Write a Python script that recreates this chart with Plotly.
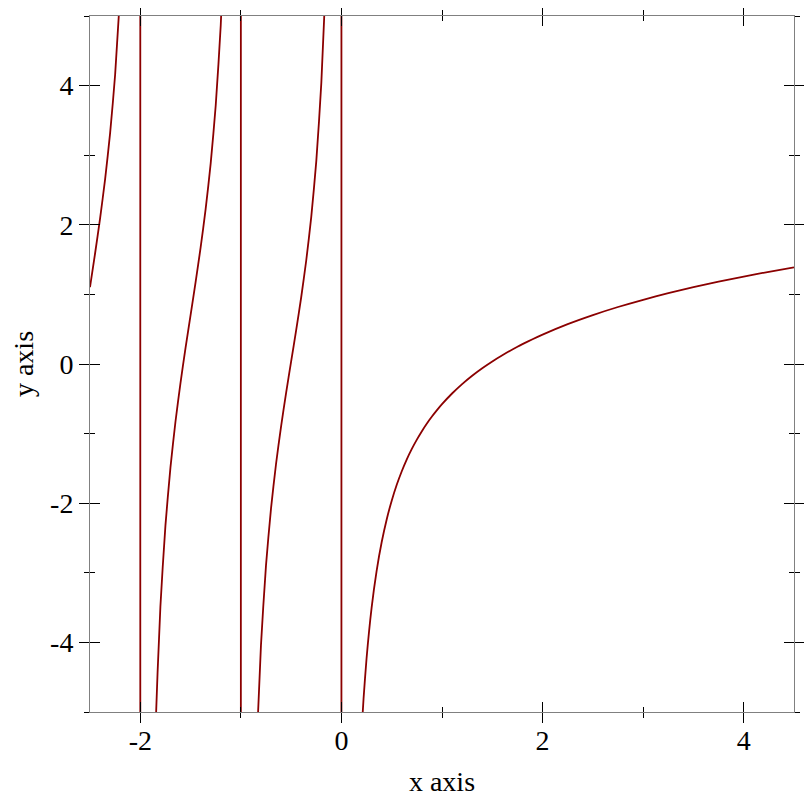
import plotly.graph_objects as go

# values, one list per branch between the asymptotes
branch1_x = [-2.5, -2.45, -2.4, -2.35, -2.3, -2.25, -2.2]
branch1_y = [1.103, 1.584, 2.090, 2.653, 3.317, 4.159, 5.323]

branch2_x = [-1.9, -1.85, -1.8, -1.75, -1.7, -1.65, -1.6, -1.55, -1.5, -1.45,
             -1.4, -1.35, -1.3, -1.25, -1.2, -1.15, -1.1]
branch2_y = [-8.786, -5.304, -3.483, -2.323, -1.486, -0.826, -0.270, 0.230, 0.703, 1.176,
             1.674, 2.228, 2.883, 3.714, 4.868, 6.681, 10.154]

branch3_x = [-0.9, -0.85, -0.8, -0.75, -0.7, -0.65, -0.6, -0.55, -0.5, -0.45,
             -0.4, -0.35, -0.3, -0.25, -0.2, -0.15, -0.1]
branch3_y = [-9.313, -5.845, -4.039, -2.894, -2.074, -1.433, -0.895, -0.415, 0.037, 0.486,
             0.959, 1.487, 2.113, 2.914, 4.035, 5.812, 9.245]

branch4_x = [0.2, 0.22, 0.25, 0.3, 0.35, 0.4, 0.45, 0.5, 0.55, 0.6, 0.65, 0.7, 0.75,
             0.8, 0.85, 0.9, 0.95, 1.0, 1.1, 1.2, 1.3, 1.4, 1.5, 1.6, 1.75, 1.8, 1.9,
             2.0, 2.25, 2.5, 2.75, 3.0, 3.25, 3.5, 3.75, 4.0, 4.25, 4.5]
branch4_y = [-5.289, -4.810, -4.227, -3.503, -2.971, -2.561, -2.233, -1.964, -1.736, -1.541,
             -1.370, -1.220, -1.086, -0.965, -0.855, -0.755, -0.663, -0.577, -0.424, -0.289,
             -0.169, -0.061, 0.037, 0.126, 0.248, 0.285, 0.356, 0.423, 0.573, 0.703,
             0.819, 0.923, 1.017, 1.103, 1.183, 1.256, 1.325, 1.389]

asymptote_x = [-2, -1, 0]

x_range = [-2.5, 4.5]
y_range = [-5, 5]
x_major = [-2, 0, 2, 4]
x_minor = [-1, 1, 3]
y_major = [-4, -2, 0, 2, 4]
y_minor = [-5, -3, -1, 1, 3, 5]

line_color = "#8b0000"
font = dict(family="Liberation Serif", size=28, color="black")

fig = go.Figure()

xs, ys = [], []
for bx, by in [(branch1_x, branch1_y), (branch2_x, branch2_y),
               (branch3_x, branch3_y), (branch4_x, branch4_y)]:
    xs += bx + [None]
    ys += by + [None]
fig.add_trace(go.Scatter(x=xs, y=ys, mode="lines",
                         line=dict(color=line_color, width=1.8, shape="spline", smoothing=0.6),
                         hoverinfo="skip", showlegend=False))

# vertical jumps at the poles
vx, vy = [], []
for a in asymptote_x:
    vx += [a, a, None]
    vy += [y_range[0], y_range[1], None]
fig.add_trace(go.Scatter(x=vx, y=vy, mode="lines",
                         line=dict(color=line_color, width=1.8),
                         hoverinfo="skip", showlegend=False))

# empty trace so the overlay axes (inside ticks) get drawn
fig.add_trace(go.Scatter(x=[None], y=[None], xaxis="x2", yaxis="y2", showlegend=False))

def tick_text(vals):
    return [str(v) for v in vals]

common = dict(showgrid=False, zeroline=False, showline=True, linecolor="#808080",
              linewidth=1, tickcolor="black", tickwidth=1.3, automargin=False,
              tickfont=font)

# page body has an 8px margin, so the figure is a bit smaller than the window
fig.update_layout(
    width=804, height=804,
    margin=dict(l=82, r=18, t=8, b=100),
    plot_bgcolor="white", paper_bgcolor="white",
    font=font,
    xaxis=dict(range=x_range, tickvals=x_major, ticktext=tick_text(x_major),
               ticks="outside", ticklen=10, mirror="ticks", ticklabelstandoff=-7,
               minor=dict(tickvals=x_minor, ticks="outside", ticklen=5, tickcolor="black"),
               title=dict(text="x axis", standoff=16, font=font), **common),
    yaxis=dict(range=y_range, tickvals=y_major, ticktext=tick_text(y_major),
               ticks="outside", ticklen=10, mirror="ticks",
               minor=dict(tickvals=y_minor, ticks="outside", ticklen=5, tickcolor="black"),
               title=dict(text="y axis", standoff=18, font=font), **common),
    xaxis2=dict(range=x_range, overlaying="x", anchor="y2", tickvals=x_major,
                showticklabels=False, ticks="inside", ticklen=10, mirror="ticks",
                minor=dict(tickvals=x_minor, ticks="inside", ticklen=5, tickcolor="black"),
                **common),
    yaxis2=dict(range=y_range, overlaying="y", anchor="x2", tickvals=y_major,
                showticklabels=False, ticks="inside", ticklen=10, mirror="ticks",
                minor=dict(tickvals=y_minor, ticks="inside", ticklen=5, tickcolor="black"),
                **common),
)

fig.write_html("out.html")
